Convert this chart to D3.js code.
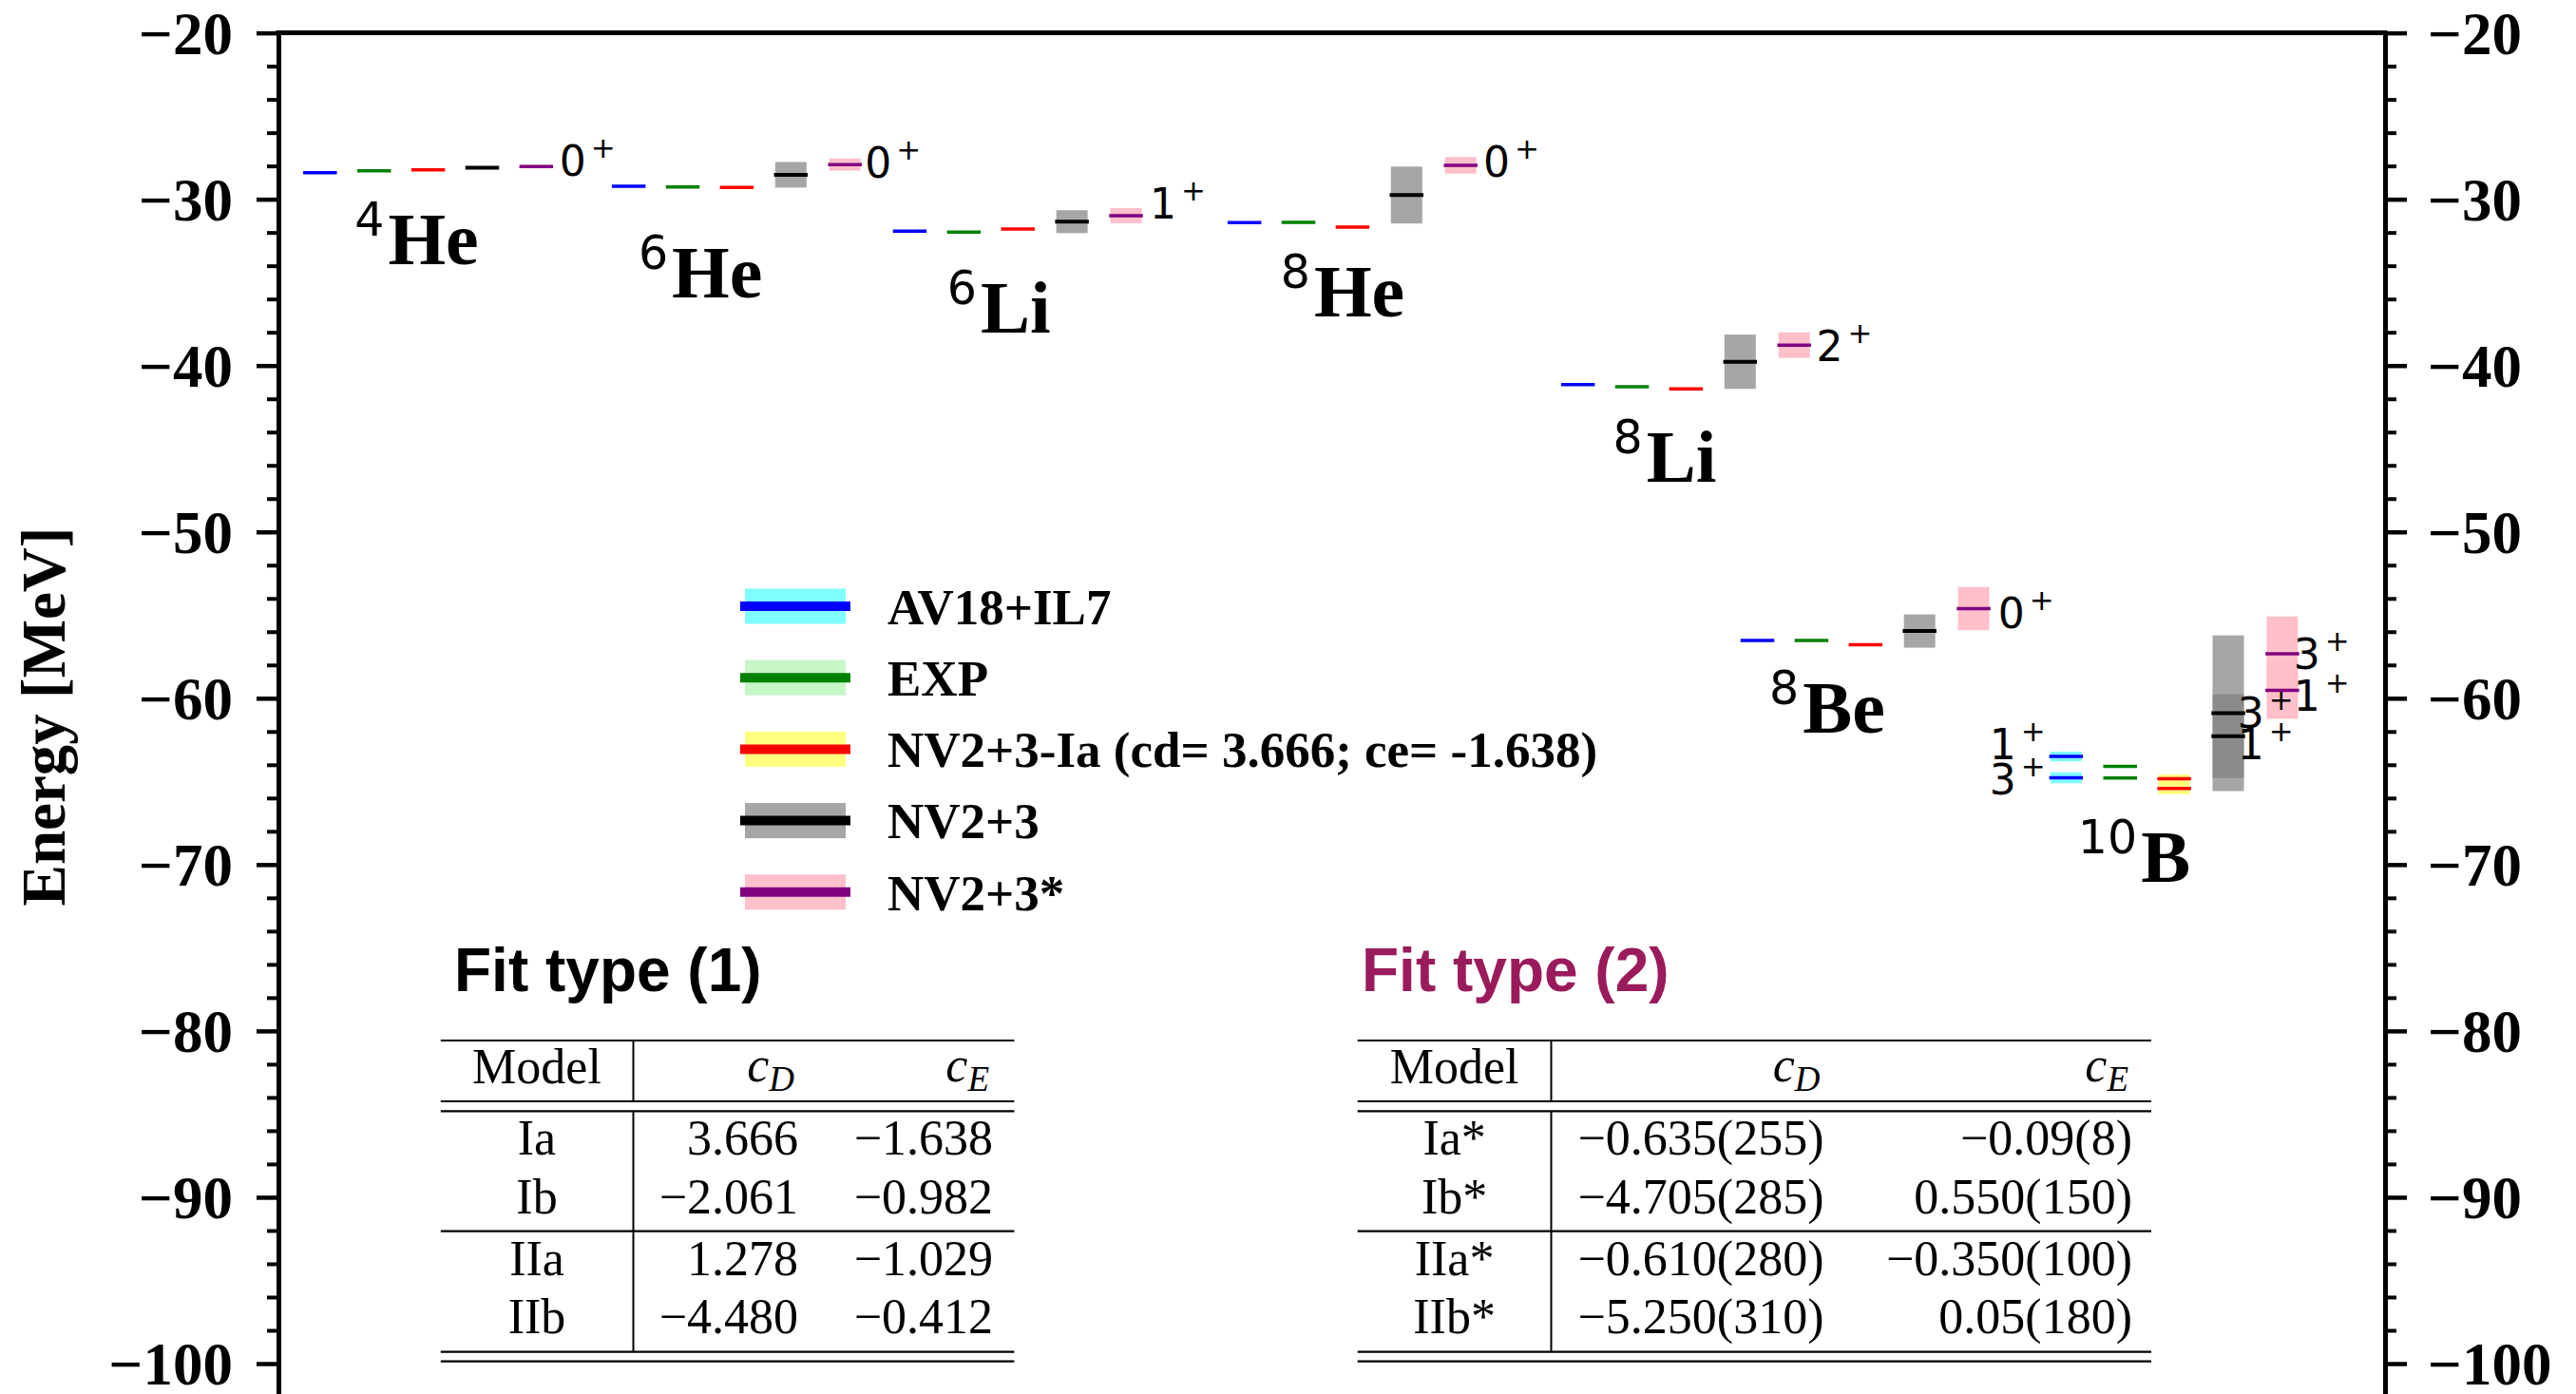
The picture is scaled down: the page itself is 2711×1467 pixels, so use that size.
<!DOCTYPE html>
<html>
<head>
<meta charset="utf-8">
<title>Energy levels</title>
<script src="https://d3js.org/d3.v7.min.js"></script>
<style>
  body { margin: 0; background: #fff; }
</style>
</head>
<body>
<div id="chart"></div>
<script>
// nuclei, left to right
const nucleusMass = ["4", "6", "6", "8", "8", "8", "10"];
const nucleusSymbol = ["He", "He", "Li", "He", "Li", "Be", "B"];
const nucleusX = [0, 5.71, 10.91, 17.10, 23.27, 26.59, 32.30];   // x of first model column
const labelX = [0.64, 5.89, 11.60, 17.77, 23.92, 26.81, 32.52];
const labelE = [-33.90, -35.90, -38.02, -37.05, -46.97, -62.05, -71.05];

const models = ["AV18+IL7", "EXP", "NV2+3-Ia (cd= 3.666; ce= -1.638)", "NV2+3", "NV2+3*"];
const lineColors = ["blue", "green", "red", "black", "purple"];
const bandColors = ["cyan", "lightgreen", "yellow", "gray", "pink"];
const bandAlpha = [0.5, 0.5, 0.5, 0.7, 1];

// energies (MeV) for each nucleus, and half width of the band
const avE    = [[-28.40], [-29.22], [-31.92], [-31.41], [-41.15], [-56.53], [-63.50, -64.78]];
const avErr  = [[0], [0], [0], [0], [0], [0], [0.29, 0.33]];
const expE   = [[-28.29], [-29.26], [-31.98], [-31.39], [-41.28], [-56.53], [-64.09, -64.80]];
const expErr = [[0], [0], [0], [0], [0], [0], [0, 0]];
const iaE    = [[-28.23], [-29.29], [-31.79], [-31.67], [-41.40], [-56.78], [-64.84, -65.42]];
const iaErr  = [[0], [0], [0], [0.1], [0.1], [0], [0.25, 0.35]];
const nvE    = [[-28.11], [-28.53], [-31.35], [-29.75], [-39.77], [-55.96], [-60.90, -62.28]];
const nvErr  = [[0], [0.77], [0.69], [1.71], [1.63], [1.00], [4.68, 2.52]];
const nvsE   = [[-28.04], [-27.92], [-30.99], [-27.96], [-38.77], [-54.61], [-57.33, -59.52]];
const nvsErr = [[0.1], [0.37], [0.455], [0.5], [0.77], [1.30], [2.25, 1.72]];

// spin-parity labels
const spinJ    = ["0", "0", "1", "0", "2", "0", "3", "1", "3", "1", "1", "3"];
const spinX    = [4.43, 10.08, 15.35, 21.52, 27.68, 31.04, 36.51, 36.51, 35.47, 35.47, 31.92, 31.92];
const spinE    = [-27.68, -27.79, -30.25, -27.76, -38.82, -54.86, -57.31, -59.82, -60.85, -62.75, -62.73, -64.87];
const spinSide = ["r", "r", "r", "r", "r", "r", "r", "r", "r", "r", "l", "l"];

const yTicks = [-20, -30, -40, -50, -60, -70, -80, -90, -100];

// tables
const fit1Models = ["Ia", "Ib", "IIa", "IIb"];
const fit1cD = ["3.666", "\u22122.061", "1.278", "\u22124.480"];
const fit1cE = ["\u22121.638", "\u22120.982", "\u22121.029", "\u22120.412"];
const fit2Models = ["Ia*", "Ib*", "IIa*", "IIb*"];
const fit2cD = ["\u22120.635(255)", "\u22124.705(285)", "\u22120.610(280)", "\u22125.250(310)"];
const fit2cE = ["\u22120.09(8)", "0.550(150)", "\u22120.350(100)", "0.05(180)"];

const W = 2711, H = 1467;
const serif = "'Liberation Serif', 'Times New Roman', serif";
const sans = "'DejaVu Sans', sans-serif";

let svg = d3.select("#chart").append("svg")
    .attr("width", W).attr("height", H)
    .style("background", "#fff");

let x = d3.scaleLinear().domain([-0.77, 38.2]).range([293, 2510]);
let y = d3.scaleLinear().domain([-20, -102]).range([34.6, 34.6 + 82 * 17.505]);

// build level table from the arrays
const allE = [avE, expE, iaE, nvE, nvsE];
const allErr = [avErr, expErr, iaErr, nvErr, nvsErr];
let levels = [];
allE.forEach(function(series, m) {
    series.forEach(function(vals, n) {
        vals.forEach(function(e, k) {
            levels.push({m: m, n: n, e: e, err: allErr[m][n][k], xc: nucleusX[n] + m});
        });
    });
});

// uncertainty bands
svg.append("g").selectAll("rect")
    .data(levels.filter(d => d.err > 0))
    .enter().append("rect")
    .attr("x", d => x(d.xc - 0.29))
    .attr("width", d => x(d.xc + 0.29) - x(d.xc - 0.29))
    .attr("y", d => y(d.e + d.err))
    .attr("height", d => y(d.e - d.err) - y(d.e + d.err))
    .attr("fill", d => bandColors[d.m])
    .attr("fill-opacity", d => bandAlpha[d.m]);

// level lines
svg.append("g").selectAll("line")
    .data(levels)
    .enter().append("line")
    .attr("x1", d => x(d.xc - 0.312))
    .attr("x2", d => x(d.xc + 0.312))
    .attr("y1", d => y(d.e))
    .attr("y2", d => y(d.e))
    .attr("stroke", d => lineColors[d.m])
    .attr("stroke-width", d => d.m == 3 ? 4 : 3.5);

// spin labels
let spins = svg.append("g").selectAll("text")
    .data(spinJ)
    .enter().append("text")
    .attr("x", (d, i) => x(spinX[i]))
    .attr("y", (d, i) => y(spinE[i]) + 16)
    .attr("text-anchor", (d, i) => spinSide[i] == "l" ? "end" : "start")
    .attr("font-family", sans)
    .attr("font-size", 44);
spins.append("tspan").text(d => d);
spins.append("tspan").attr("dx", 5).attr("dy", -19).attr("font-size", 31).text("+");

// nucleus names
let names = svg.append("g").selectAll("text")
    .data(nucleusSymbol)
    .enter().append("text")
    .attr("x", (d, i) => x(labelX[i]))
    .attr("y", (d, i) => y(labelE[i]));
names.append("tspan")
    .attr("dy", -30)
    .attr("font-family", sans)
    .attr("font-size", 49)
    .text((d, i) => nucleusMass[i]);
names.append("tspan")
    .attr("dy", 30).attr("dx", 4)
    .attr("font-family", serif)
    .attr("font-weight", "bold")
    .attr("font-size", 78)
    .text(d => d);

// axes
const fmt = d => "\u2212" + Math.abs(d);
const yMinor = d3.range(-22, -102, -2).filter(v => v % 10 !== 0);

function styleAxis(g) {
    g.attr("font-family", serif).attr("font-size", 63).attr("font-weight", "bold");
    g.selectAll(".tick line").attr("stroke-width", 4.5);
    g.selectAll(".tick text").attr("fill", "#000").attr("dy", "0.34em");
    g.select(".domain").attr("stroke-width", 5);
}

svg.append("g").attr("transform", "translate(293,0)")
    .call(d3.axisLeft(y).tickValues(yTicks).tickFormat(fmt).tickSize(23).tickPadding(25).tickSizeOuter(0))
    .call(styleAxis);
svg.append("g").attr("transform", "translate(293,0)")
    .call(d3.axisLeft(y).tickValues(yMinor).tickFormat("").tickSize(12))
    .call(g => g.select(".domain").remove())
    .call(g => g.selectAll("line").attr("stroke-width", 4));

svg.append("g").attr("transform", "translate(2510,0)")
    .call(d3.axisRight(y).tickValues(yTicks).tickFormat(fmt).tickSize(23).tickPadding(22).tickSizeOuter(0))
    .call(styleAxis);
svg.append("g").attr("transform", "translate(2510,0)")
    .call(d3.axisRight(y).tickValues(yMinor).tickFormat("").tickSize(12))
    .call(g => g.select(".domain").remove())
    .call(g => g.selectAll("line").attr("stroke-width", 4));

// top spine
svg.append("line")
    .attr("x1", 290.5).attr("x2", 2512.5)
    .attr("y1", y(-20)).attr("y2", y(-20))
    .attr("stroke", "#000").attr("stroke-width", 5);

// y title
svg.append("text")
    .attr("transform", "translate(68,754) rotate(-90)")
    .attr("text-anchor", "middle")
    .attr("font-family", serif)
    .attr("font-weight", "bold")
    .attr("font-size", 65)
    .text("Energy [MeV]");

// legend
let legend = svg.append("g").selectAll("g")
    .data(models)
    .enter().append("g")
    .attr("transform", (d, i) => "translate(0," + (638 + i * 75.2) + ")");
legend.append("rect")
    .attr("x", 784).attr("width", 106)
    .attr("y", -18.5).attr("height", 37)
    .attr("fill", (d, i) => bandColors[i])
    .attr("fill-opacity", (d, i) => bandAlpha[i]);
legend.append("line")
    .attr("x1", 779).attr("x2", 895)
    .attr("stroke", (d, i) => lineColors[i])
    .attr("stroke-width", 10);
legend.append("text")
    .attr("x", 934).attr("y", 18.7)
    .attr("font-family", serif)
    .attr("font-weight", "bold")
    .attr("font-size", 53)
    .text(d => d);

// fit tables
function drawTable(o) {
    let g = svg.append("g");
    g.append("text")
        .attr("x", o.titleX).attr("y", 1043)
        .attr("font-family", "'Liberation Sans', Arial, sans-serif")
        .attr("font-weight", "bold")
        .attr("font-size", 64)
        .attr("fill", o.titleColor)
        .text(o.title);

    const rules = [1095, 1159, 1169.3, 1295.7, 1422.7, 1432.7];
    g.selectAll("line.h").data(rules).enter().append("line")
        .attr("x1", o.x0).attr("x2", o.x1)
        .attr("y1", d => d).attr("y2", d => d)
        .attr("stroke", "#000").attr("stroke-width", 2.2);
    g.selectAll("line.v").data([[1095, 1159], [1169.3, 1422.7]]).enter().append("line")
        .attr("x1", o.xv).attr("x2", o.xv)
        .attr("y1", d => d[0]).attr("y2", d => d[1])
        .attr("stroke", "#000").attr("stroke-width", 2);

    let t = g.append("g").attr("font-family", serif).attr("font-size", 52);
    t.append("text").attr("x", o.c1).attr("y", 1140).attr("text-anchor", "middle").text("Model");
    [["D", o.c2], ["E", o.c3]].forEach(function(h) {
        let tx = t.append("text").attr("x", h[1] - 4).attr("y", 1138)
            .attr("text-anchor", "end").attr("font-style", "italic");
        tx.append("tspan").text("c");
        tx.append("tspan").attr("dy", 10).attr("font-size", 37).text(h[0]);
    });
    const rowY = [1215, 1276.7, 1341.7, 1403];
    o.models.forEach(function(m, i) {
        t.append("text").attr("x", o.c1).attr("y", rowY[i]).attr("text-anchor", "middle").text(m);
        t.append("text").attr("x", o.c2).attr("y", rowY[i]).attr("text-anchor", "end").text(o.cD[i]);
        t.append("text").attr("x", o.c3).attr("y", rowY[i]).attr("text-anchor", "end").text(o.cE[i]);
    });
}

drawTable({title: "Fit type (1)", titleColor: "#000", titleX: 478,
    x0: 463.8, x1: 1067.4, xv: 666.5, c1: 565, c2: 840, c3: 1045,
    models: fit1Models, cD: fit1cD, cE: fit1cE});
drawTable({title: "Fit type (2)", titleColor: "#9a1b5b", titleX: 1433,
    x0: 1428.7, x1: 2264, xv: 1632.5, c1: 1530.6, c2: 1919.5, c3: 2244,
    models: fit2Models, cD: fit2cD, cE: fit2cE});
</script>
</body>
</html>
